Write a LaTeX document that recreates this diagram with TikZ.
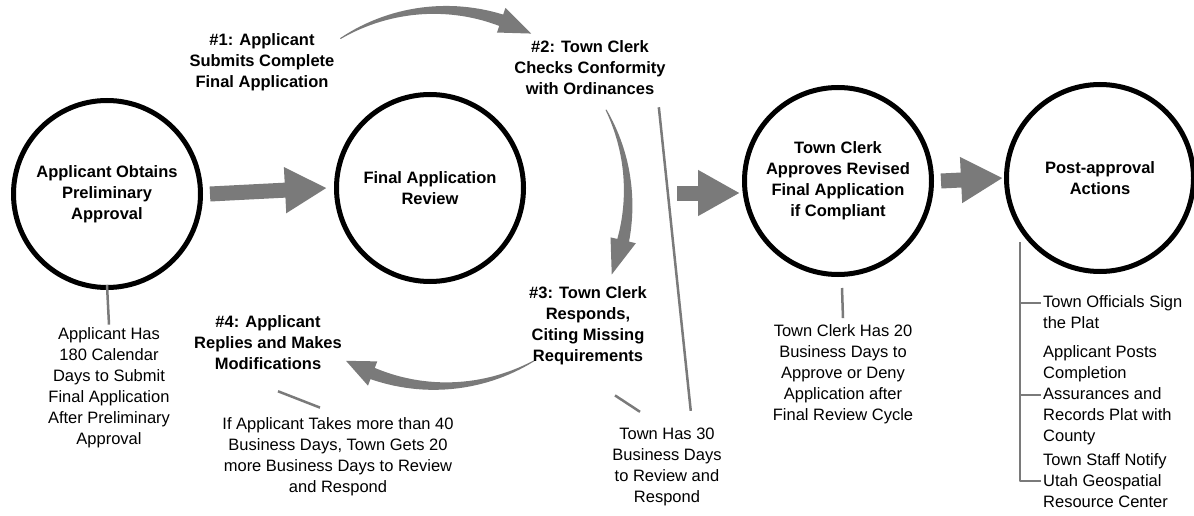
\documentclass[tikz,border=0pt]{standalone}
\usepackage{fontspec}
\setmainfont{Liberation Sans}
\usetikzlibrary{arrows.meta,calc}

\definecolor{hatchgray}{gray}{0.48}
\newcommand{\txtsize}{\fontsize{16.5}{21}\selectfont}
\def\cx{440}\def\cy{198}\def\rr{188}

\tikzset{
  stage/.style={circle, draw, line width=5pt, minimum size=187pt, inner sep=0pt, align=center, font=\txtsize\bfseries},
  steplabel/.style={align=center, inner sep=3pt, font=\txtsize\bfseries},
  note/.style={align=center, inner sep=3pt},
  item/.style={align=left, anchor=west, inner sep=2pt},
  link/.style={draw=hatchgray, line width=2.5pt},
  fat/.style={draw=hatchgray, line width=15pt, -{Triangle[length=42pt,width=43pt]}},
}

% tapered arrow on the review cycle: #1 tail angle, #2 head base angle, #3 tip angle
\newcommand{\cyclearrow}[3]{%
  \fill[hatchgray] plot[domain=#1:#2, samples=30]
      ({\cx+(\rr+0.5+5.5*(\x-(#1))/((#2)-(#1)))*cos(\x)}, {\cy-(\rr+0.5+5.5*(\x-(#1))/((#2)-(#1)))*sin(\x)})
    -- ({\cx+(\rr+13)*cos(#2)}, {\cy-(\rr+13)*sin(#2)})
    -- ({\cx+\rr*cos(#3)}, {\cy-\rr*sin(#3)})
    -- ({\cx+(\rr-13)*cos(#2)}, {\cy-(\rr-13)*sin(#2)})
    -- plot[domain=#2:#1, samples=30]
      ({\cx+(\rr-0.5-5.5*(\x-(#1))/((#2)-(#1)))*cos(\x)}, {\cy-(\rr-0.5-5.5*(\x-(#1))/((#2)-(#1)))*sin(\x)})
    -- cycle;}

\begin{document}
\begin{tikzpicture}[x=1pt, y=-1pt, font=\txtsize, line join=round]
  \useasboundingbox (0,0) rectangle (1194,516);

  % main stages
  \node[stage] (c1) at (107,194) {Applicant Obtains\\Preliminary\\Approval};
  \node[stage] (c2) at (430,188) {Final Application\\Review};
  \node[stage] (c3) at (838,181) {Town Clerk\\Approves Revised\\Final Application\\if Compliant};
  \node[stage] (c4) at (1100,178) {Post-approval\\Actions};

  \draw[fat] ([xshift=7pt]c1.east) -- ([xshift=-7pt]c2.west);
  \coordinate (a23) at (677,193);
  \draw[fat] (a23) -- ([xshift=-2pt]a23 -| c3.west);
  \draw[fat] ([xshift=7pt]c3.east) -- ([xshift=-1pt]c4.west);

  % review cycle
  \node[steplabel] (s1) at (262,62) {\#1: Applicant\\Submits Complete\\Final Application};
  \node[steplabel] (s2) at (590,68) {\#2: Town Clerk\\Checks Conformity\\with Ordinances};
  \node[steplabel] (s3) at (588,326) {\#3: Town Clerk\\Responds,\\Citing Missing\\Requirements};
  \node[steplabel] (s4) at (268,343) {\#4: Applicant\\Replies and Makes\\Modifications};

  \cyclearrow{122}{71}{61}
  \cyclearrow{28}{-13}{-24}
  \cyclearrow{-60}{-111}{-120}

  % deadlines
  \node[note] (n1) at (109,388) {Applicant Has\\180 Calendar\\Days to Submit\\Final Application\\After Preliminary\\Approval};
  \node[note] (n4) at (338,457) {If Applicant Takes more than 40\\Business Days, Town Gets 20\\more Business Days to Review\\and Respond};
  \node[note] (n3) at (667,467) {Town Has 30\\Business Days\\to Review and\\Respond};
  \node[note] (nc3) at (843,374) {Town Clerk Has 20\\Business Days to\\Approve or Deny\\Application after\\Final Review Cycle};

  \draw[link] ([yshift=5pt]c1.south) -- (n1.north);
  \draw[link] ([shift={(4,11)}]c3.south) -- ([yshift=3pt]nc3.north);
  \draw[link] ([shift={(10,18)}]s4.south) -- ([shift={(-18,-7)}]n4.north);
  \draw[link] ([shift={(27,27)}]s3.south) -- ([shift={(-27,-13)}]n3.north);
  \draw[link] ([shift={(-10,9)}]s2.south east) -- ([shift={(-34,-14)}]n3.north east);

  % after approval
  \node[item] (p1) at (1041,312) {Town Officials Sign\\the Plat};
  \node[item] (p2) at (1041,395) {Applicant Posts\\Completion\\Assurances and\\Records Plat with\\County};
  \node[item] (p3) at (1041,481) {Town Staff Notify\\Utah Geospatial\\Resource Center};
  \coordinate (tr) at (1020,242);
  \draw[link] (tr) |- (p3.west);
  \draw[link] (tr |- p2.west) -- (p2.west);
  \draw[link] ([yshift=9pt]p1.west -| tr) -- ([yshift=9pt]p1.west);
\end{tikzpicture}
\end{document}
